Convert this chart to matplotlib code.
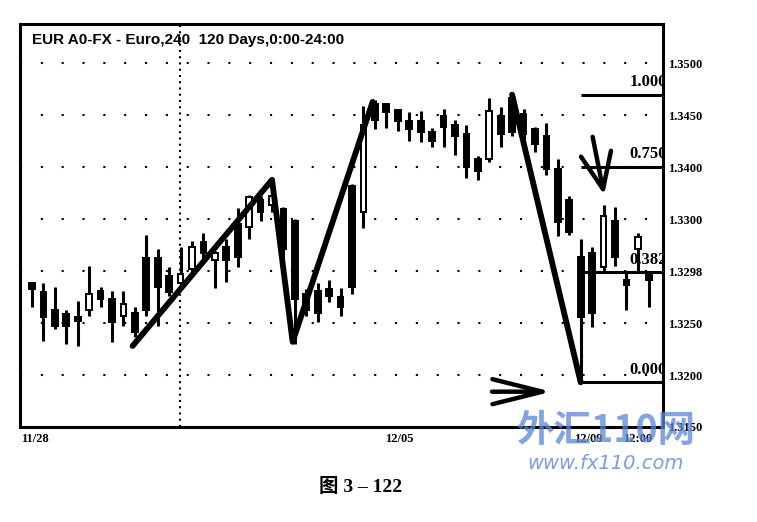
import numpy as np
import matplotlib.pyplot as plt
from matplotlib.patches import Rectangle

# EUR 4h candles (open, high, low, close)
opens = [1.3289, 1.3280, 1.3263, 1.3259, 1.3256, 1.3263, 1.3281, 1.3273, 1.3257, 1.3260,
         1.3313, 1.3313, 1.3295, 1.3289, 1.3302, 1.3328, 1.3311, 1.3323, 1.3345, 1.3343,
         1.3369, 1.3364, 1.3360, 1.3348, 1.3278, 1.3281, 1.3283, 1.3275, 1.3382, 1.3357,
         1.3461, 1.3461, 1.3455, 1.3445, 1.3445, 1.3434, 1.3449, 1.3441, 1.3432, 1.3408,
         1.3408, 1.3449, 1.3467, 1.3451, 1.3437, 1.3430, 1.3398, 1.3369, 1.3314, 1.3318,
         1.3304, 1.3348, 1.3292, 1.3321, 1.3297]
highs = [1.3289, 1.3289, 1.3285, 1.3263, 1.3271, 1.3305, 1.3285, 1.3281, 1.3281, 1.3266,
         1.3335, 1.3321, 1.3304, 1.3323, 1.3329, 1.3337, 1.3319, 1.3331, 1.3361, 1.3373,
         1.3372, 1.3388, 1.3362, 1.3350, 1.3283, 1.3289, 1.3292, 1.3284, 1.3384, 1.3459,
         1.3465, 1.3462, 1.3456, 1.3453, 1.3454, 1.3438, 1.3456, 1.3446, 1.3441, 1.3411,
         1.3467, 1.3458, 1.3470, 1.3456, 1.3439, 1.3443, 1.3408, 1.3372, 1.3331, 1.3323,
         1.3364, 1.3362, 1.3300, 1.3337, 1.3300]
lows = [1.3266, 1.3233, 1.3244, 1.3230, 1.3228, 1.3257, 1.3266, 1.3232, 1.3247, 1.3237,
        1.3257, 1.3247, 1.3276, 1.3285, 1.3295, 1.3311, 1.3284, 1.3290, 1.3304, 1.3331,
        1.3348, 1.3357, 1.3314, 1.3230, 1.3257, 1.3251, 1.3270, 1.3257, 1.3278, 1.3342,
        1.3437, 1.3438, 1.3435, 1.3425, 1.3424, 1.3420, 1.3420, 1.3412, 1.3390, 1.3388,
        1.3405, 1.3420, 1.3430, 1.3427, 1.3415, 1.3393, 1.3334, 1.3335, 1.3193, 1.3246,
        1.3299, 1.3305, 1.3263, 1.3300, 1.3266]
closes = [1.3283, 1.3256, 1.3247, 1.3247, 1.3252, 1.3278, 1.3273, 1.3251, 1.3268, 1.3241,
          1.3263, 1.3285, 1.3280, 1.3297, 1.3323, 1.3318, 1.3318, 1.3311, 1.3314, 1.3371,
          1.3357, 1.3372, 1.3321, 1.3273, 1.3263, 1.3260, 1.3276, 1.3266, 1.3285, 1.3441,
          1.3446, 1.3453, 1.3445, 1.3437, 1.3434, 1.3425, 1.3439, 1.3430, 1.3400, 1.3396,
          1.3454, 1.3432, 1.3434, 1.3432, 1.3422, 1.3398, 1.3347, 1.3338, 1.3256, 1.3260,
          1.3353, 1.3314, 1.3287, 1.3333, 1.3292]

# hand drawn zigzag legs
zig1_idx = [8.8, 21, 22.8, 29.8]
zig1_px = [1.3228, 1.3388, 1.3232, 1.3463]
zig2_idx = [42, 48]
zig2_px = [1.3470, 1.3193]

# fibonacci retracement of the last swing
fib_start = 48
fib_ratios = [1.0, 0.75, 0.382, 0.0]
fib_labels = ['1.000', '0.750', '0.382', '0.000']

yticks = [1.350, 1.345, 1.340, 1.335, 1.330, 1.325, 1.320, 1.315]
ytick_labels = ['1.3500', '1.3450', '1.3400', '1.3300', '1.3298', '1.3250', '1.3200', '1.3150']
xticks = [0.3, 32.1, 48.7, 53.0]
xtick_labels = ['11/28', '12/05', '12/09', '12:00']
day_sep = 12.95

# arrows (tail x, tail y, tip x, tip y, head length, head half width)
arrows = [(49.0, 1.3432, 50.1, 1.3371, 2.6, 1.1),
          (40.0, 1.3184, 45.7, 1.3184, 3.6, 0.9)]

serif = ['Liberation Serif', 'DejaVu Serif']

fig = plt.figure(figsize=(7.57, 5.22), dpi=100)
ax = fig.add_axes([0.0264, 0.182, 0.8494, 0.772])
xmin, xmax = -1.05, 55.2
ax.set_xlim(xmin, xmax)
ax.set_ylim(1.3151, 1.3538)

# dotted grid
for y in yticks[:-1]:
    ax.axhline(y, color='black', lw=1.5, linestyle=(0, (1, 9)), zorder=1)
ax.axvline(day_sep, color='black', lw=1.5, linestyle=(0, (1, 2)), zorder=1)

# candles
n = len(opens)
for i in range(n):
    o, h, l, c = opens[i], highs[i], lows[i], closes[i]
    ax.vlines(i, l, h, color='black', lw=2.2, zorder=2)
    body = max(abs(c - o), 0.00004)
    face = 'white' if c > o else 'black'
    ax.add_patch(Rectangle((i - 0.25, min(o, c)), 0.5, body, facecolor=face,
                           edgecolor='black', lw=1.4, zorder=3))

ax.plot(zig1_idx, zig1_px, color='black', lw=4.2, solid_capstyle='round',
        solid_joinstyle='round', zorder=4)
ax.plot(zig2_idx, zig2_px, color='black', lw=4.2, solid_capstyle='round', zorder=4)

swing_hi, swing_lo = max(zig2_px), min(zig2_px)
for r, lab in zip(fib_ratios, fib_labels):
    lev = swing_lo + r * (swing_hi - swing_lo)
    ax.hlines(lev, fib_start, xmax, color='black', lw=2.2, zorder=4)
    ax.text(xmax + 0.35, lev + 0.0004, lab, ha='right', va='bottom', fontsize=12,
            fontweight='bold', family=serif, clip_on=True, zorder=5)

# hand drawn arrows
for x0, y0, x1, y1, hl, hw in arrows:
    ax.annotate('', xy=(x1, y1), xytext=(x0, y0),
                arrowprops=dict(arrowstyle=f'->,head_length={hl},head_width={hw}',
                                color='black', lw=3.2, capstyle='round'), zorder=5)

ax.text(0.019, 0.978, 'EUR A0-FX - Euro,240  120 Days,0:00-24:00', transform=ax.transAxes,
        ha='left', va='top', fontsize=11, fontweight='bold', family='Liberation Sans')

ax.yaxis.tick_right()
ax.set_yticks(yticks)
ax.set_yticklabels(ytick_labels, fontsize=9, fontweight='bold', family=serif)
ax.set_xticks(xticks)
ax.set_xticklabels(xtick_labels, fontsize=9, fontweight='bold', family=serif)
ax.tick_params(length=0, pad=4)
for s in ax.spines.values():
    s.set_linewidth(2.2)

# watermark and caption
fig.text(0.80, 0.175, '外汇110网', fontsize=27, fontweight='bold', color='#5a86d6',
         alpha=0.75, ha='center', va='center', family=['Noto Sans CJK SC'], style='italic')
fig.text(0.80, 0.113, 'www.fx110.com', fontsize=14, color='#5a86d6', alpha=0.8,
         ha='center', va='center', style='italic', family='DejaVu Sans')
fig.text(0.476, 0.067, '图 3 – 122', fontsize=14, fontweight='bold', ha='center',
         va='center', family=['Liberation Serif', 'Noto Sans CJK SC'])

plt.savefig('out.png', dpi=100)
